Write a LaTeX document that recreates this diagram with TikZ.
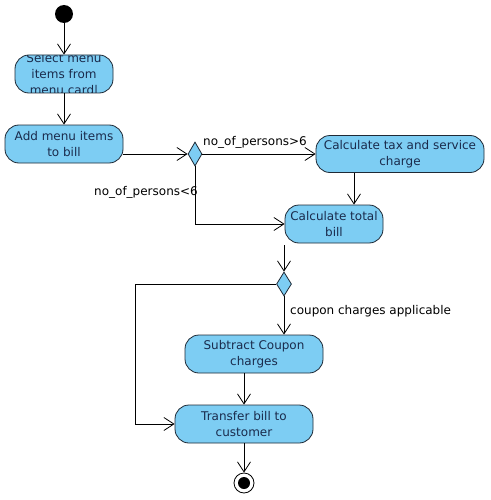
\documentclass[tikz,border=0pt]{standalone}
\usepackage{fontspec}
\setmainfont{DejaVu Sans}
\usetikzlibrary{shapes.geometric,arrows.meta}
\definecolor{boxfill}{HTML}{7DCDF3}
\definecolor{boxline}{HTML}{1F2A36}
\definecolor{txt}{HTML}{1A2B4C}
\tikzset{
  act/.style={rounded corners=14pt, draw=boxline, fill=boxfill, line width=0.8pt,
    inner sep=0pt, text=txt, align=center, font=\fontsize{12}{16}\selectfont},
  dec/.style={diamond, draw=boxline, fill=boxfill, line width=0.8pt, inner sep=0pt,
    minimum width=14pt, minimum height=24pt},
  arr/.style={line width=0.7pt, draw=black, -{Straight Barb[length=10pt,width=13pt,line width=0.8pt]}},
  lbl/.style={font=\fontsize{12}{14}\selectfont, text=black, inner sep=0pt},
}
\begin{document}
\begin{tikzpicture}[x=1pt,y=-1pt]
\useasboundingbox[fill=white] (0,0) rectangle (490,500);
\fill[black] (64,14) circle (9pt);
\node[circle, inner sep=0pt, minimum size=18pt] (start) at (64,14) {};
\node[act, minimum width=98pt, minimum height=38pt,
  path picture={\node[text=txt, align=center, font=\fontsize{12}{16}\selectfont] at ([yshift=-1pt]path picture bounding box.center) {Select menu\\items from\\menu card|};}] (s1) at (64,74) {};
\node[act, minimum width=118pt, minimum height=38pt] (s2) at (64,144) {Add menu items\\to bill};
\node[dec] (d1) at (195,154) {};
\node[act, minimum width=168pt, minimum height=37pt] (s3) at (400,154) {Calculate tax and service\\charge};
\node[act, minimum width=98pt, minimum height=38pt] (s4) at (334,224) {Calculate total\\bill};
\node[dec, minimum width=15pt] (d2) at (284,284) {};
\node[act, minimum width=138pt, minimum height=38pt] (s5) at (254,354) {Subtract Coupon\\charges};
\node[act, minimum width=138pt, minimum height=38pt] (s6) at (244,424) {Transfer bill to\\customer};
\node[circle, draw=black, line width=0.8pt, minimum size=20pt, inner sep=0pt] (end) at (244,483) {};
\fill[black] (end.center) circle (6pt);
\coordinate (cL) at (135,284);

\draw[arr] (start) -- (s1.north);
\draw[arr] (s1) -- (s2);
\draw[arr] (s2.east |- d1.west) -- (d1.west);
\draw[arr] (d1.east) -- (s3.west);
\node[lbl] (l1) at (255,142) {no\_of\_persons>6};
\draw[arr] ([xshift=-46pt]s3.south) -- ([xshift=20pt]s4.north);
\draw[arr] (d1.south) |- (s4.west);
\node[lbl] (l2) at (146,192) {no\_of\_persons<6};
\draw[arr] ([xshift=-50pt,yshift=-2pt]s4.south) -- (d2.north);
\draw[arr] (d2.west) -- (cL) |- (s6.west);
\draw[arr] (d2.south) -- ([xshift=30pt]s5.north);
\node[lbl, anchor=west] (l3) at (290,311) {coupon charges applicable};
\draw[arr] ([xshift=-10pt]s5.south) -- (s6.north);
\draw[arr] (s6.south) -- (end.north);
\end{tikzpicture}
\end{document}
